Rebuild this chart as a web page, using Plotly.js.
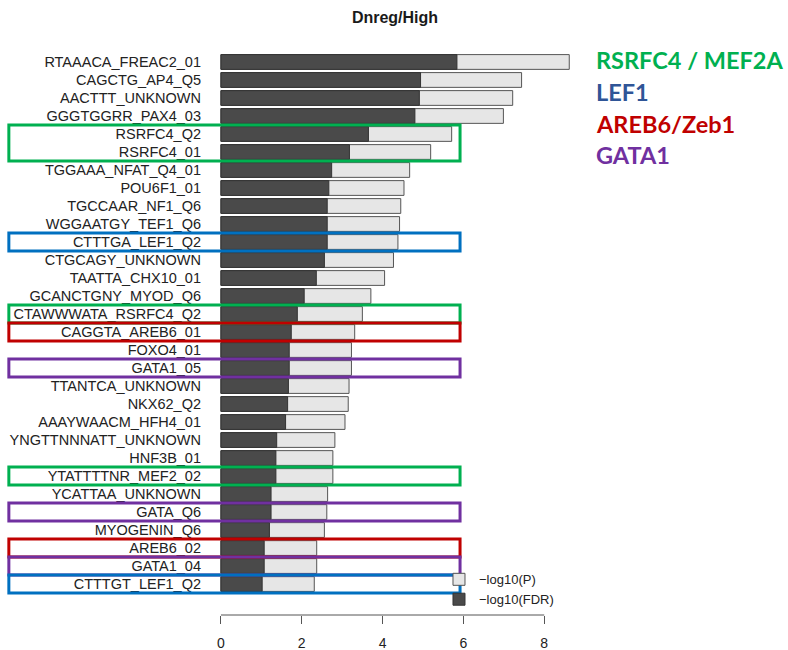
<!DOCTYPE html>
<html>
<head>
<meta charset="utf-8">
<script src="https://cdn.plot.ly/plotly-3.0.1.min.js"></script>
<style>
  html, body { margin: 0; padding: 0; background: #ffffff; }
  #chart { width: 788px; height: 650px; }
</style>
</head>
<body>
<div id="chart"></div>
<script>
// Motif enrichment, top to bottom
const motifs = [
  "RTAAACA_FREAC2_01", "CAGCTG_AP4_Q5", "AACTTT_UNKNOWN", "GGGTGGRR_PAX4_03",
  "RSRFC4_Q2", "RSRFC4_01", "TGGAAA_NFAT_Q4_01", "POU6F1_01",
  "TGCCAAR_NF1_Q6", "WGGAATGY_TEF1_Q6", "CTTTGA_LEF1_Q2", "CTGCAGY_UNKNOWN",
  "TAATTA_CHX10_01", "GCANCTGNY_MYOD_Q6", "CTAWWWATA_RSRFC4_Q2", "CAGGTA_AREB6_01",
  "FOXO4_01", "GATA1_05", "TTANTCA_UNKNOWN", "NKX62_Q2",
  "AAAYWAACM_HFH4_01", "YNGTTNNNATT_UNKNOWN", "HNF3B_01", "YTATTTTNR_MEF2_02",
  "YCATTAA_UNKNOWN", "GATA_Q6", "MYOGENIN_Q6", "AREB6_02",
  "GATA1_04", "CTTTGT_LEF1_Q2"
];

// -log10(P)
const negLogP = [
  8.62, 7.44, 7.22, 6.99,
  5.71, 5.19, 4.67, 4.53,
  4.45, 4.42, 4.38, 4.27,
  4.05, 3.71, 3.50, 3.31,
  3.23, 3.23, 3.17, 3.15,
  3.07, 2.82, 2.77, 2.77,
  2.64, 2.62, 2.56, 2.37,
  2.37, 2.31
];

// -log10(FDR)
const negLogFDR = [
  5.84, 4.94, 4.91, 4.80,
  3.65, 3.18, 2.74, 2.67,
  2.63, 2.63, 2.63, 2.56,
  2.36, 2.06, 1.89, 1.74,
  1.69, 1.69, 1.67, 1.65,
  1.60, 1.38, 1.36, 1.36,
  1.24, 1.24, 1.20, 1.07,
  1.07, 1.02
];

const xTicks = [0, 2, 4, 6, 8];

// Highlighted motif families: [first motif, last motif, family]
const highlightGroups = [
  ["RSRFC4_Q2", "RSRFC4_01", "rsrf"],
  ["CTTTGA_LEF1_Q2", "CTTTGA_LEF1_Q2", "lef"],
  ["CTAWWWATA_RSRFC4_Q2", "CTAWWWATA_RSRFC4_Q2", "rsrf"],
  ["CAGGTA_AREB6_01", "CAGGTA_AREB6_01", "areb"],
  ["GATA1_05", "GATA1_05", "gata"],
  ["YTATTTTNR_MEF2_02", "YTATTTTNR_MEF2_02", "rsrf"],
  ["GATA_Q6", "GATA_Q6", "gata"],
  ["AREB6_02", "AREB6_02", "areb"],
  ["GATA1_04", "GATA1_04", "gata"],
  ["CTTTGT_LEF1_Q2", "CTTTGT_LEF1_Q2", "lef"]
];

const familyNames = ["RSRFC4 / MEF2A", "LEF1", "AREB6/Zeb1", "GATA1"];
const familyKeys = ["rsrf", "lef", "areb", "gata"];

const boxColors = { rsrf: "#00B050", lef: "#0070C0", areb: "#C00000", gata: "#7030A0" };
const textColors = { rsrf: "#00B050", lef: "#2F5597", areb: "#C00000", gata: "#7030A0" };

const labelFont = "Liberation Sans, Arial, sans-serif";

const traces = [
  {
    type: "bar",
    orientation: "h",
    name: "\u2212log10(P)",
    y: motifs,
    x: negLogP,
    width: 0.82,
    marker: { color: "#E6E6E6", line: { color: "#555555", width: 1 } },
    hoverinfo: "x+y"
  },
  {
    type: "bar",
    orientation: "h",
    name: "\u2212log10(FDR)",
    y: motifs,
    x: negLogFDR,
    width: 0.82,
    marker: { color: "#4A4A4A", line: { color: "#333333", width: 1 } },
    hoverinfo: "x+y"
  }
];

// Frames around the highlighted rows, spanning label column and bars
const shapes = highlightGroups.map(function (g) {
  const i0 = motifs.indexOf(g[0]);
  const i1 = motifs.indexOf(g[1]);
  return {
    type: "rect",
    xref: "paper", yref: "y",
    x0: -0.527, x1: 0.673,
    y0: i0 - 0.5, y1: i1 + 0.5,
    line: { color: boxColors[g[2]], width: 3 },
    fillcolor: "rgba(0,0,0,0)",
    layer: "above"
  };
});

// Value axis line, from first to last tick only
shapes.push({
  type: "line",
  xref: "x", yref: "paper",
  x0: xTicks[0], x1: xTicks[xTicks.length - 1],
  y0: 0, y1: 0,
  line: { color: "#555555", width: 1 }
});

const familyY = [0.953, 0.898, 0.843, 0.79];
const annotations = familyNames.map(function (t, k) {
  return {
    text: "<b>" + t + "</b>",
    xref: "paper", yref: "paper",
    x: 1.028, y: familyY[k],
    xanchor: "left", yanchor: "middle",
    showarrow: false,
    font: { family: "Lato, sans-serif", size: 23.5, color: textColors[familyKeys[k]] }
  };
});

const layout = {
  width: 788,
  height: 650,
  margin: { l: 207, r: 205, t: 33, b: 35, pad: 0 },
  paper_bgcolor: "#ffffff",
  plot_bgcolor: "#ffffff",
  barmode: "overlay",
  showlegend: true,
  title: {
    text: "<b>Dnreg/High</b>",
    x: 0.5, xref: "paper",
    y: 1 - 17 / 650, yref: "container", yanchor: "middle",
    font: { family: labelFont, size: 16, color: "#1a1a1a" }
  },
  xaxis: {
    range: [-0.345, 8.96],
    tickvals: xTicks,
    ticktext: xTicks.map(String),
    ticks: "outside",
    ticklen: 8,
    tickwidth: 1,
    tickcolor: "#555555",
    showline: false,
    showgrid: false,
    zeroline: false,
    automargin: false,
    ticklabelstandoff: 7,
    tickfont: { family: labelFont, size: 14, color: "#222222" }
  },
  yaxis: {
    type: "category",
    categoryorder: "array",
    categoryarray: motifs,
    range: [30.72, -1.61],
    showline: false,
    showgrid: false,
    zeroline: false,
    ticks: "",
    automargin: false,
    ticklabelstandoff: 5,
    tickfont: { family: labelFont, size: 14.5, color: "#222222" }
  },
  legend: {
    x: 0.617, xanchor: "left",
    y: 0.087, yanchor: "top",
    bgcolor: "rgba(0,0,0,0)",
    borderwidth: 0,
    tracegroupgap: 0,
    traceorder: "normal",
    font: { family: labelFont, size: 13, color: "#222222" }
  },
  shapes: shapes,
  annotations: annotations
};

Plotly.newPlot("chart", traces, layout, { displayModeBar: false, staticPlot: true });
</script>
</body>
</html>
